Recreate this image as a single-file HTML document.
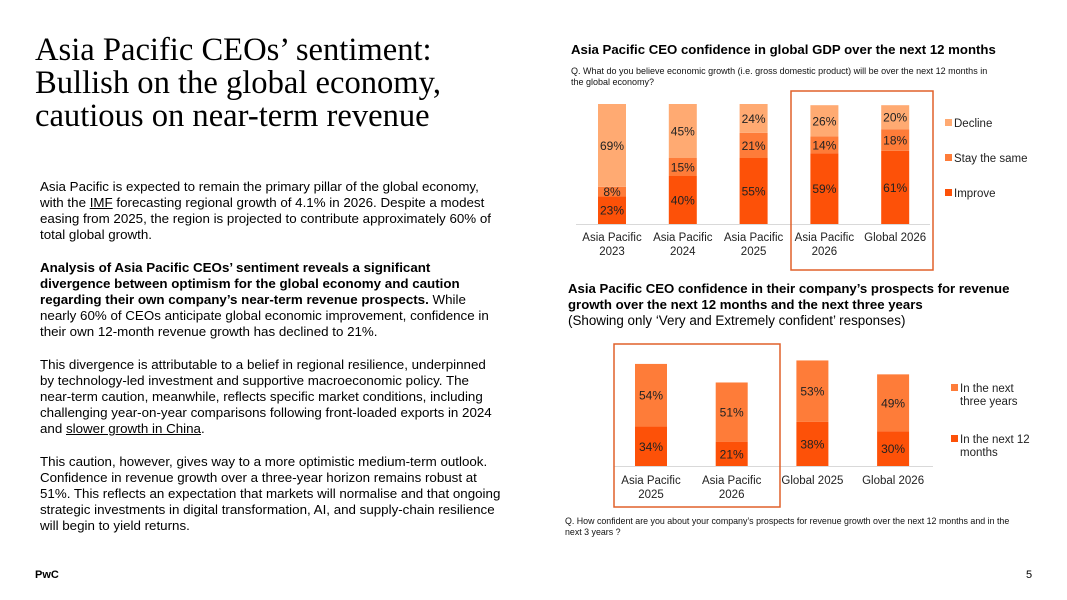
<!DOCTYPE html>
<html><head><meta charset="utf-8"><style>
body{margin:0;width:1067px;height:600px;background:#fff;position:relative;overflow:hidden;font-family:"Liberation Sans",sans-serif;color:#000}
.abs{position:absolute}
#title{left:35px;top:34px;font-family:"Liberation Serif",serif;font-size:32.6px;line-height:33px;white-space:nowrap}
#body{left:40px;top:179px;font-size:13.35px;line-height:16.15px;white-space:nowrap}
.ct{font-weight:bold;font-size:13.2px;white-space:nowrap}
.q{font-size:9px;line-height:11px;white-space:nowrap;color:#111}
svg text{font-family:"Liberation Sans",sans-serif}
</style></head><body>
<div id="title" class="abs">Asia Pacific CEOs’ sentiment:<br>Bullish on the global economy,<br>cautious on near-term revenue</div>
<div id="body" class="abs">Asia Pacific is expected to remain the primary pillar of the global economy,<br>with the <u>IMF</u> forecasting regional growth of 4.1% in 2026. Despite a modest<br>easing from 2025, the region is projected to contribute approximately 60% of<br>total global growth.<br><br><b>Analysis of Asia Pacific CEOs’ sentiment reveals a significant<br>divergence between optimism for the global economy and caution<br>regarding their own company’s near-term revenue prospects.</b> While<br>nearly 60% of CEOs anticipate global economic improvement, confidence in<br>their own 12-month revenue growth has declined to 21%.<br><br>This divergence is attributable to a belief in regional resilience, underpinned<br>by technology-led investment and supportive macroeconomic policy. The<br>near-term caution, meanwhile, reflects specific market conditions, including<br>challenging year-on-year comparisons following front-loaded exports in 2024<br>and <u>slower growth in China</u>.<br><br>This caution, however, gives way to a more optimistic medium-term outlook.<br>Confidence in revenue growth over a three-year horizon remains robust at<br>51%. This reflects an expectation that markets will normalise and that ongoing<br>strategic investments in digital transformation, AI, and supply-chain resilience<br>will begin to yield returns.</div>
<div class="abs ct" style="left:571px;top:42px">Asia Pacific CEO confidence in global GDP over the next 12 months</div>
<div class="abs q" style="left:571px;top:66px">Q. What do you believe economic growth (i.e. gross domestic product) will be over the next 12 months in<br>the global economy?</div>
<div class="abs ct" style="left:568px;top:281px;line-height:16px">Asia Pacific CEO confidence in their company’s prospects for revenue<br>growth over the next 12 months and the next three years<br><span style="font-weight:normal;font-size:13.4px">(Showing only ‘Very and Extremely confident’ responses)</span></div>
<div class="abs q" style="left:565px;top:516px;font-size:8.85px">Q. How confident are you about your company’s prospects for revenue growth over the next 12 months and in the<br>next 3 years ?</div>
<div class="abs" style="left:35px;top:569px;font-size:11px;font-weight:bold">PwC</div>
<div class="abs" style="left:1026px;top:569px;font-size:11px">5</div>
<svg class="abs" style="left:0;top:0" width="1067" height="600" id="svg"></svg>
<script>
const gdpCats=[["Asia Pacific","2023"],["Asia Pacific","2024"],["Asia Pacific","2025"],["Asia Pacific","2026"],["Global 2026"]];
const gdpImprove=[23,40,55,59,61];
const gdpSame=[8,15,21,14,18];
const gdpDecline=[69,45,24,26,20];
const revCats=[["Asia Pacific","2025"],["Asia Pacific","2026"],["Global 2025"],["Global 2026"]];
const rev12m=[34,21,38,30];
const rev3y=[54,51,53,49];
const NS="http://www.w3.org/2000/svg";
const svg=document.getElementById('svg');
function mk(t,a,p){const e=document.createElementNS(NS,t);for(const k in a)e.setAttribute(k,a[k]);(p||svg).appendChild(e);return e;}
const gY=v=>224-v*1.2; const gX=i=>612+i*70.8;
const gCols=['#fd5108','#fe7c39','#ffaa72'];
const gSeries=[gdpImprove,gdpSame,gdpDecline];
const gNames=['improve','stay-the-same','decline'];
gdpCats.forEach((c,i)=>{let acc=0;gSeries.forEach((s,si)=>{const v=s[i];
 const r=mk('rect',{x:gX(i)-14,y:gY(acc+v),width:28,height:v*1.2,fill:gCols[si]});
 
 
 const t=mk('text',{x:gX(i),y:gY(acc+v/2)+4.5,'text-anchor':'middle','font-size':'12',fill:'#222'});t.textContent=v+'%';
 
 
 acc+=v;});
 c.forEach((l,li)=>{const t=mk('text',{x:gX(i),y:241+li*14,'text-anchor':'middle','font-size':'11.5',fill:'#222'});t.textContent=l;
 
 });
});
mk('line',{x1:576,x2:930,y1:224.5,y2:224.5,stroke:'#d9d9d9'});
mk('rect',{x:791,y:91,width:142,height:179,fill:'none',stroke:'#e0602a','stroke-width':1.5});
['Decline','Stay the same','Improve'].forEach((n,i)=>{mk('rect',{x:945,y:119+i*35,width:7,height:7,fill:gCols[2-i]});
 const t=mk('text',{x:954,y:127+i*35,'font-size':'11.5',fill:'#222'});t.textContent=n;
 
 });
const rY=v=>466-v*1.16; const rX=i=>651+i*80.7;
const rCols=['#fd5108','#fe7c39'];
revCats.forEach((c,i)=>{let acc=0;[rev12m,rev3y].forEach((s,si)=>{const v=s[i];
 const r=mk('rect',{x:rX(i)-16,y:rY(acc+v),width:32,height:v*1.16,fill:rCols[si]});
 
 
 const t=mk('text',{x:rX(i),y:rY(acc+v/2)+4.5,'text-anchor':'middle','font-size':'12',fill:'#222'});t.textContent=v+'%';
 
 
 acc+=v;});
 c.forEach((l,li)=>{const t=mk('text',{x:rX(i),y:484+li*14,'text-anchor':'middle','font-size':'11.5',fill:'#222'});t.textContent=l;
 
 });
});
mk('line',{x1:614,x2:933,y1:466.5,y2:466.5,stroke:'#d9d9d9'});
mk('rect',{x:614,y:344,width:166,height:163,fill:'none',stroke:'#e0602a','stroke-width':1.5});
[['In the next','three years'],['In the next 12','months']].forEach((n,i)=>{mk('rect',{x:951,y:384+i*51,width:7,height:7,fill:rCols[1-i]});
 n.forEach((l,li)=>{const t=mk('text',{x:960,y:392+i*51+li*13,'font-size':'11.5',fill:'#222'});t.textContent=l;
 
 });});
</script>
</body></html>
